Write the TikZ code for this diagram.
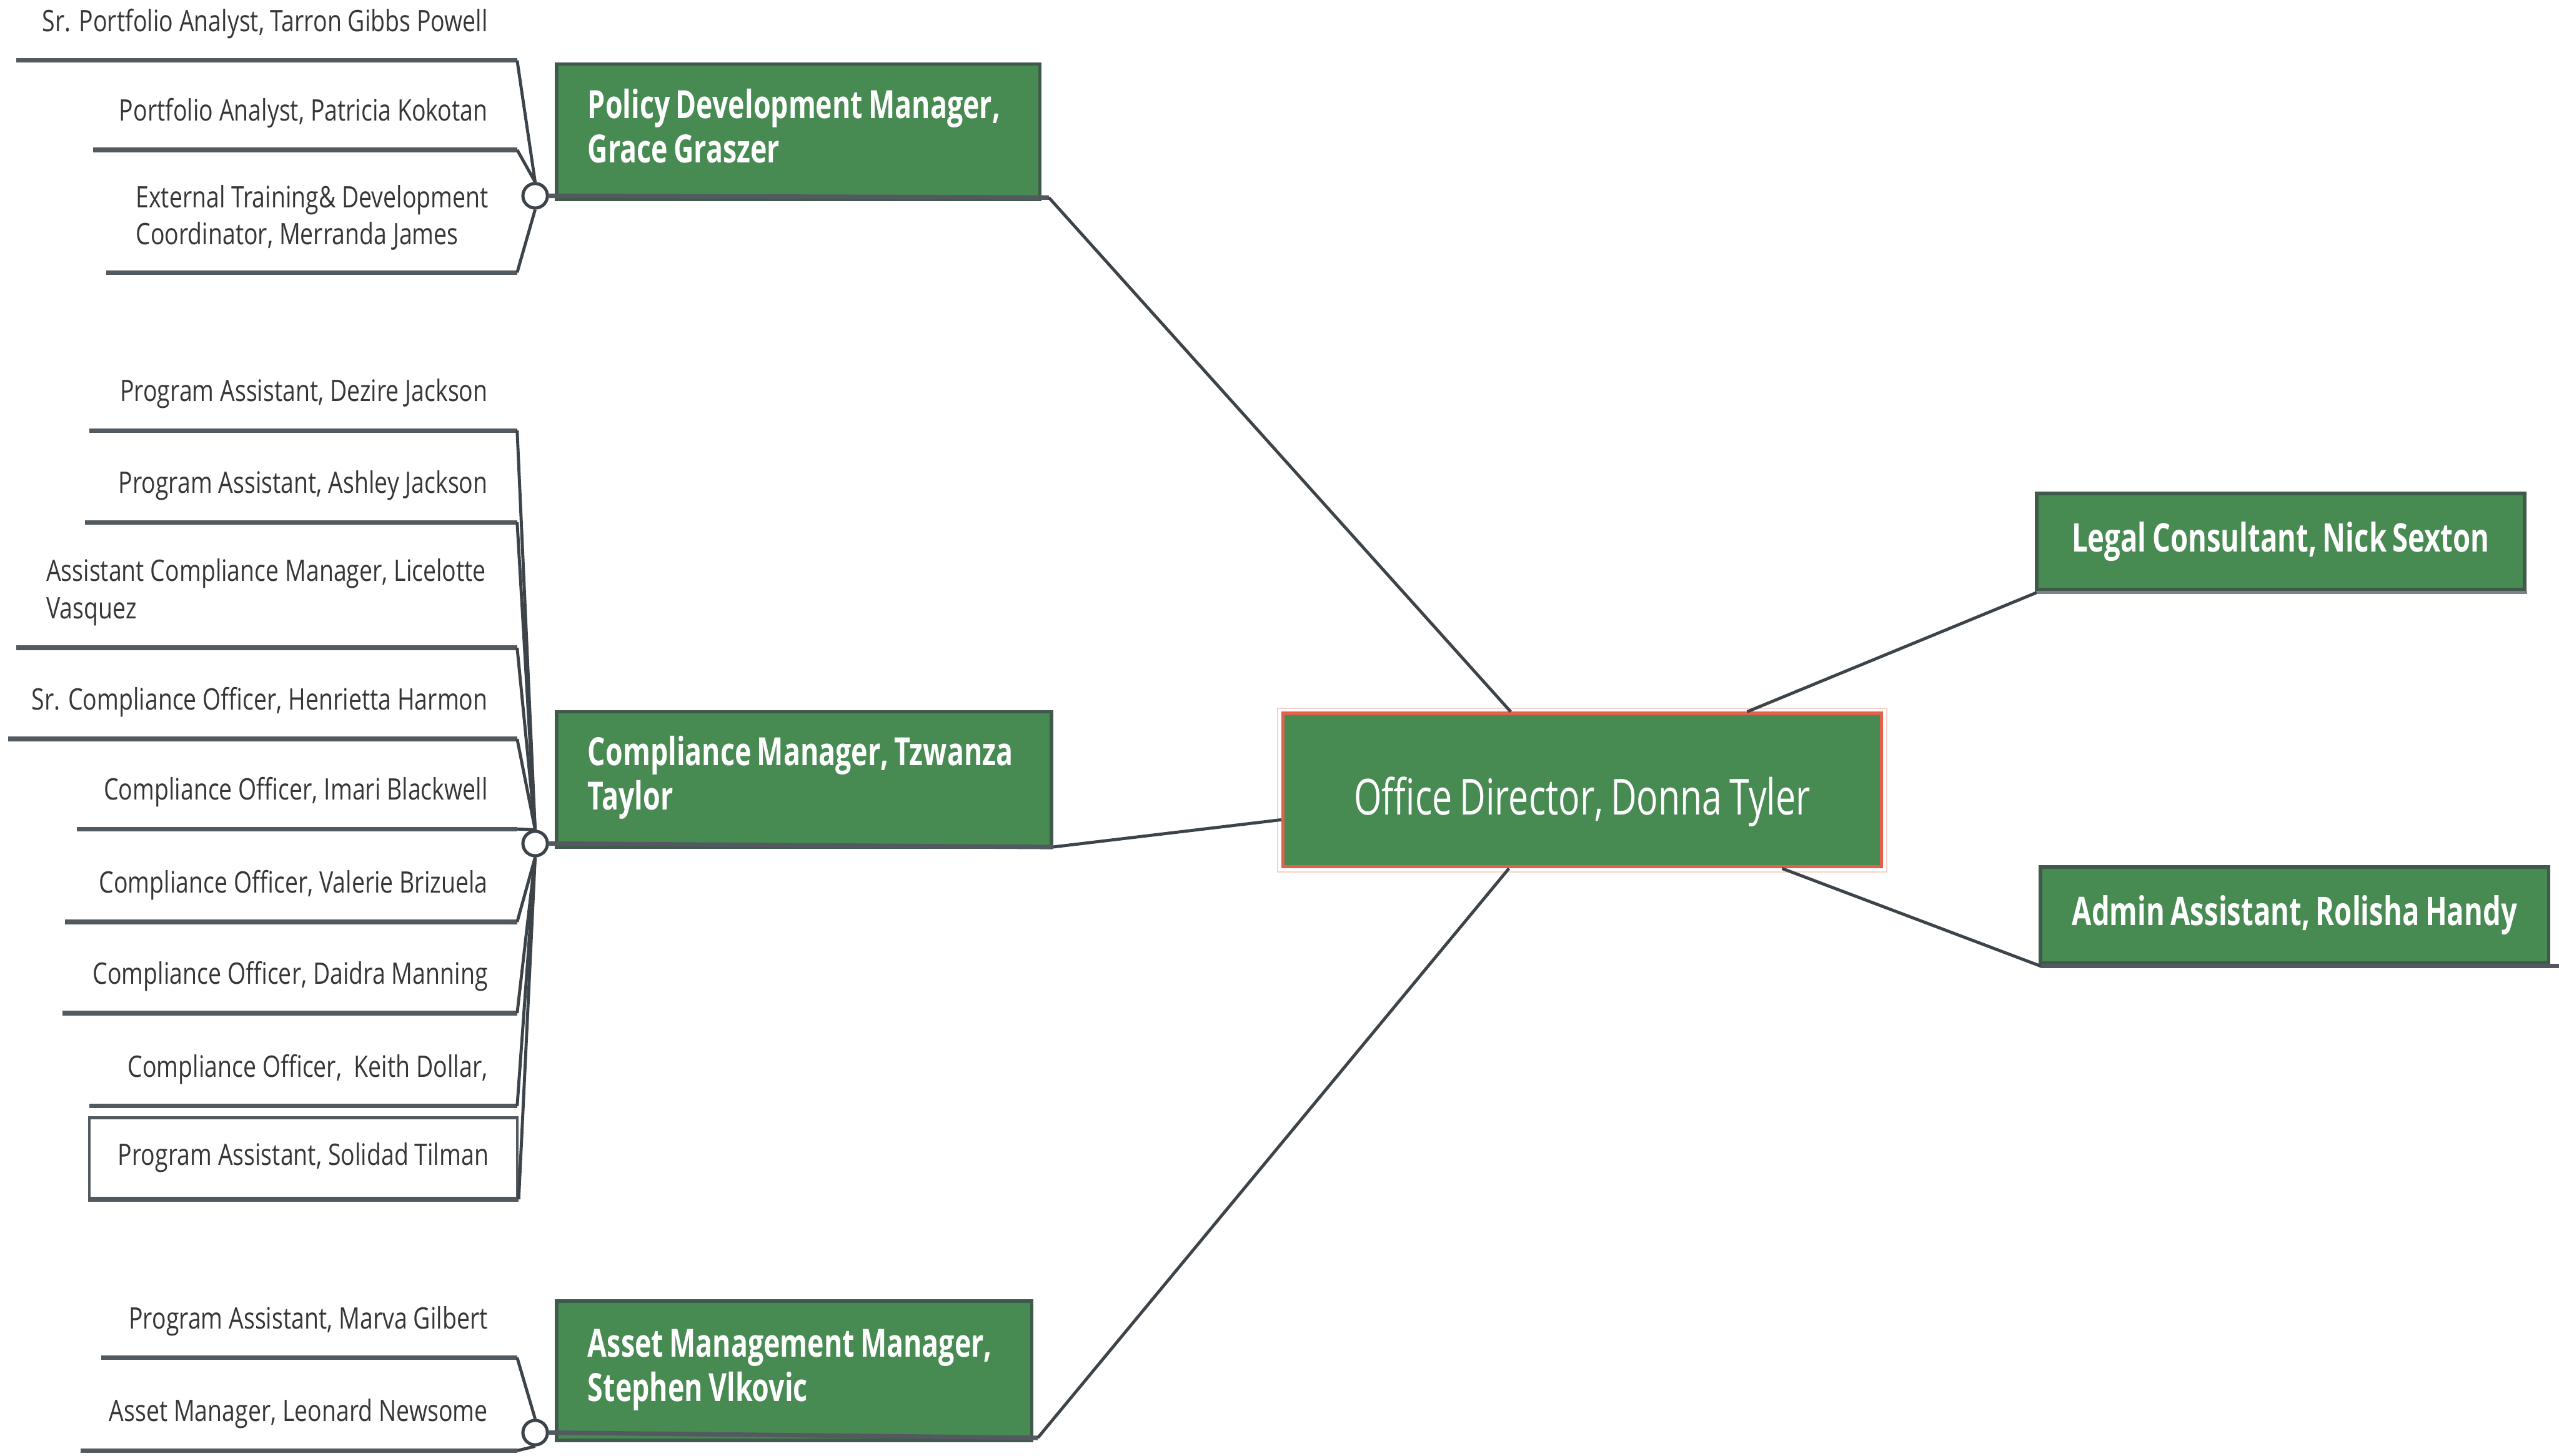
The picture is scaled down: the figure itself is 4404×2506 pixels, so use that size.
\documentclass[tikz,border=0pt]{standalone}
\usepackage{fontspec}
\setmainfont{Open Sans}
\newfontfamily\leaffont[FakeStretch=0.79]{Open Sans}
\newfontfamily\boxfont[FakeStretch=0.72,WordSpace=0.8]{Open Sans}
\usetikzlibrary{calc}
\definecolor{mgreen}{HTML}{478A52}
\definecolor{mborder}{HTML}{3F5A4A}
\definecolor{leafgray}{HTML}{363636}
\definecolor{bargray}{HTML}{525A60}
\definecolor{conngray}{HTML}{3C444A}
\definecolor{dirred}{HTML}{E0624D}
\definecolor{lightbar}{HTML}{7B8287}
\begin{document}
\begin{tikzpicture}[x=0.01cm,y=-0.01cm,
  leaf/.style={font=\leaffont\fontsize{14.5}{18.2}\selectfont, text=leafgray, inner sep=0pt, anchor=base east},
  leafml/.style={font=\leaffont\fontsize{14.5}{18.2}\selectfont, text=leafgray, inner sep=0pt, anchor=base west, align=left},
  bar/.style={line width=2.2pt, draw=bargray},
  conn/.style={line width=1.5pt, draw=conngray},
  knob/.style={circle, draw=conngray, fill=white, line width=1.5pt, minimum size=0.42cm, inner sep=0pt},
  mgr/.style={rectangle, fill=mgreen, draw=mborder, line width=1.8pt, anchor=north west, inner sep=0pt, minimum height=2.33cm},
  mgrtext/.style={anchor=west, align=left, text=white, inner sep=0pt,
    font=\boxfont\bfseries\fontsize{19}{21.6}\selectfont},
  side/.style={rectangle, fill=mgreen, draw=mborder, line width=1.8pt, text=white,
    font=\boxfont\bfseries\fontsize{19.3}{21.6}\selectfont, inner sep=0pt, minimum height=1.65cm},
  dirbox/.style={rectangle, fill=mgreen, draw=dirred, line width=1.6pt, inner sep=0pt, minimum width=10.30cm, minimum height=2.64cm},
  dirtext/.style={text=white, font=\boxfont\fontsize{24.3}{28}\selectfont, inner sep=0pt},
  solbox/.style={rectangle, draw=bargray, line width=1.4pt, fill=white, text=leafgray,
    font=\leaffont\fontsize{14.5}{18.2}\selectfont, inner sep=0pt, minimum width=7.36cm, minimum height=1.38cm}
]
\useasboundingbox (0,0) rectangle (4404,2506);

% ---------------- Director and side boxes
\node[dirbox] (dir) at (2723,1360) {};
\draw[line width=0.8pt, draw=dirred!30] ($(dir.north west)+(-6,-6)$) rectangle ($(dir.south east)+(6,6)$);
\node[dirtext] (dirt) at ($(dir.center)+(0,20)$) {Office Director, Donna Tyler};

\node[side, minimum width=8.40cm] (leg) at (3925,932) {Legal Consultant, Nick Sexton};
\node[side, minimum width=8.74cm] (adm) at (3949,1575) {Admin Assistant, Rolisha Handy};
\coordinate (legl) at (3505,1020);
\coordinate (legr) at (4349,1020);
\coordinate (adml) at (3512,1663);
\coordinate (admr) at (4404,1663);
\draw[line width=1.6pt, draw=lightbar] (legl) -- (legr);
\draw[bar] (adml) -- (admr);

% ---------------- Manager boxes
\node[mgr, minimum width=8.31cm] (pdm) at (955,107) {};
\node[mgrtext] (pdmt) at ($(pdm.west)+(56,-10)$) {Policy Development Manager,\\Grace Graszer};
\node[mgr, minimum width=8.51cm] (cmp) at (955,1222) {};
\node[mgrtext] (cmpt) at ($(cmp.west)+(56,-3)$) {Compliance Manager, Tzwanza\\Taylor};
\node[mgr, minimum width=8.17cm, minimum height=2.40cm] (amm) at (955,2236) {};
\node[mgrtext] (ammt) at ($(amm.west)+(56,-1)$) {Asset Management Manager,\\Stephen Vlkovic};

% collapse knobs
\node[knob] (k1) at (921,337) {};
\node[knob] (k2) at (921,1452) {};
\node[knob] (k3) at (921,2466) {};

\coordinate (pr) at (1805,340);
\coordinate (cr) at (1812,1458);
\coordinate (ar) at (1786,2475);
\draw[bar] (k1.east) -- (pr);
\draw[bar] (k2.east) -- (cr);
\draw[bar] (k3.east) -- (ar);

% ---------------- Main connectors
\draw[conn] (pr) -- ($(dir.north west)+(395,0)$);
\draw[conn] (cr) -- ($(dir.north west)+(0,186)$);
\draw[conn] (ar) -- ($(dir.south west)+(392,0)$);
\draw[conn] ($(dir.north west)+(802,0)$) -- (legl);
\draw[conn] ($(dir.south west)+(862,0)$) -- (adml);

% ---------------- Policy group leaves
\coordinate (u1) at (890,104);
\coordinate (u2) at (890,258);
\coordinate (u3) at (890,469);
\draw[bar] (28,104) -- (u1);
\draw[bar] (160,258) -- (u2);
\draw[bar] (183,469) -- (u3);
\node[leaf] (t1) at (840,54) {Sr. Portfolio Analyst, Tarron Gibbs Powell};
\node[leaf] (t2) at (840,208) {Portfolio Analyst, Patricia Kokotan};
\node[leafml] (t3) at (233,421) {External Training\& Development\\Coordinator, Merranda James};
\draw[conn] (k1.north) -- (u1);
\draw[conn] (k1.north) -- (u2);
\draw[conn] (k1.south) -- (u3);

% ---------------- Compliance group leaves
\coordinate (u4) at (890,741);
\coordinate (u5) at (890,899);
\coordinate (u6) at (890,1115);
\coordinate (u7) at (890,1272);
\coordinate (u8) at (890,1427);
\coordinate (u9) at (890,1587);
\coordinate (u10) at (890,1744);
\coordinate (u11) at (890,1904);
\draw[bar] (154,741) -- (u4);
\draw[bar] (146,899) -- (u5);
\draw[bar] (28,1115) -- (u6);
\draw[bar] (14,1272) -- (u7);
\draw[bar] (132,1427) -- (u8);
\draw[bar] (112,1587) -- (u9);
\draw[bar] (107,1744) -- (u10);
\draw[bar] (154,1904) -- (u11);
\node[leaf] (t4) at (840,691) {Program Assistant, Dezire Jackson};
\node[leaf] (t5) at (840,849) {Program Assistant, Ashley Jackson};
\node[leafml] (t6) at (79,1065) {Assistant Compliance Manager, Licelotte\\Vasquez};
\node[leaf] (t7) at (840,1222) {Sr. Compliance Officer, Henrietta Harmon};
\node[leaf] (t8) at (840,1377) {Compliance Officer, Imari Blackwell};
\node[leaf] (t9) at (840,1537) {Compliance Officer, Valerie Brizuela};
\node[leaf] (t10) at (840,1694) {Compliance Officer, Daidra Manning};
\node[leaf] (t11) at (840,1854) {Compliance Officer,\ \ Keith Dollar,};
\node[solbox] (t12) at (522,1993) {Program Assistant, Solidad Tilman};
\draw[line width=2.2pt, draw=bargray] (t12.south west) -- (t12.south east);
\draw[conn] (k2.north) -- (u4);
\draw[conn] (k2.north) -- (u5);
\draw[conn] (k2.north) -- (u6);
\draw[conn] (k2.north) -- (u7);
\draw[conn] (k2.north) -- (u8);
\draw[conn] (k2.south) -- (u9);
\draw[conn] (k2.south) -- (u10);
\draw[conn] (k2.south) -- (u11);
\draw[conn] (k2.south) -- (t12.south east);

% ---------------- Asset group leaves
\coordinate (u13) at (890,2337);
\coordinate (u14) at (890,2497);
\draw[bar] (174,2337) -- (u13);
\draw[bar] (139,2497) -- (u14);
\node[leaf] (t13) at (840,2287) {Program Assistant, Marva Gilbert};
\node[leaf] (t14) at (840,2447) {Asset Manager, Leonard Newsome};
\draw[conn] (k3.north) -- (u13);
\draw[conn] (k3.south) -- (u14);

% redraw knobs on top
\node[knob] at (k1) {};
\node[knob] at (k2) {};
\node[knob] at (k3) {};
\end{tikzpicture}
\end{document}
